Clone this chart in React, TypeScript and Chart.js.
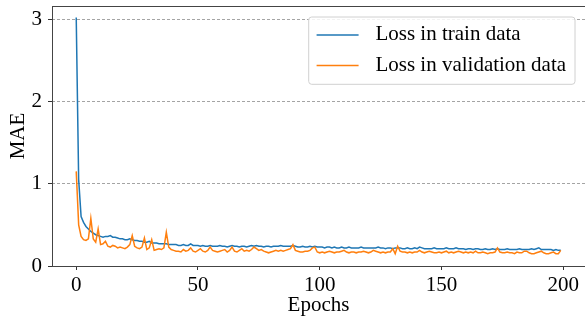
import React, { useEffect, useRef } from "react";
import { Chart, registerables } from "chart.js";

Chart.register(...registerables);

const trainLoss = [
  3.02, 1.05, 0.6, 0.53, 0.48, 0.45, 0.42, 0.4, 0.38, 0.37,
  0.36, 0.35, 0.36, 0.36, 0.37, 0.35, 0.35, 0.34, 0.33, 0.33,
  0.32, 0.32, 0.33, 0.32, 0.31, 0.31, 0.3, 0.3, 0.29, 0.29,
  0.3, 0.28, 0.28, 0.28, 0.27, 0.27, 0.27, 0.27, 0.26, 0.26,
  0.26, 0.26, 0.25, 0.25, 0.26, 0.25, 0.25, 0.27, 0.25, 0.25,
  0.25, 0.24, 0.25, 0.24, 0.24, 0.25, 0.24, 0.24, 0.24, 0.25,
  0.24, 0.24, 0.23, 0.24, 0.25, 0.24, 0.24, 0.23, 0.24, 0.24,
  0.23, 0.24, 0.25, 0.24, 0.25, 0.24, 0.24, 0.23, 0.24, 0.24,
  0.23, 0.24, 0.24, 0.24, 0.25, 0.24, 0.24, 0.24, 0.24, 0.25,
  0.24, 0.23, 0.23, 0.24, 0.23, 0.23, 0.24, 0.23, 0.24, 0.23,
  0.23, 0.23, 0.22, 0.23, 0.23, 0.22, 0.23, 0.22, 0.22, 0.23,
  0.22, 0.22, 0.23, 0.22, 0.22, 0.22, 0.22, 0.23, 0.22, 0.22,
  0.22, 0.22, 0.22, 0.22, 0.23, 0.22, 0.22, 0.21, 0.22, 0.22,
  0.21, 0.22, 0.22, 0.22, 0.21, 0.21, 0.22, 0.21, 0.21, 0.22,
  0.21, 0.23, 0.22, 0.21, 0.21, 0.21, 0.21, 0.22, 0.21, 0.21,
  0.21, 0.21, 0.22, 0.21, 0.21, 0.21, 0.22, 0.21, 0.21, 0.21,
  0.2, 0.21, 0.21, 0.2, 0.21, 0.21, 0.2, 0.2, 0.21, 0.2,
  0.2, 0.21, 0.2, 0.21, 0.2, 0.2, 0.2, 0.21, 0.2, 0.2,
  0.2, 0.2, 0.21, 0.2, 0.2, 0.2, 0.2, 0.21, 0.2, 0.21,
  0.22, 0.2, 0.2, 0.2, 0.2, 0.2, 0.19, 0.2, 0.19, 0.19,
];

const valLoss = [
  1.15, 0.5, 0.36, 0.32, 0.31, 0.33, 0.58, 0.33, 0.29, 0.45,
  0.26, 0.27, 0.3, 0.24, 0.23, 0.25, 0.24, 0.22, 0.23, 0.22,
  0.21, 0.23, 0.26, 0.37, 0.24, 0.22, 0.21, 0.23, 0.34, 0.2,
  0.22, 0.32, 0.19, 0.2, 0.21, 0.2, 0.22, 0.41, 0.23, 0.2,
  0.19, 0.18, 0.18, 0.17, 0.2, 0.18, 0.19, 0.22, 0.18, 0.17,
  0.19, 0.21, 0.18, 0.17, 0.19, 0.23, 0.19, 0.18, 0.17, 0.18,
  0.19, 0.2, 0.17, 0.19, 0.23, 0.18, 0.17, 0.19, 0.21, 0.18,
  0.19, 0.18, 0.2, 0.23, 0.21, 0.19, 0.2, 0.18, 0.17, 0.16,
  0.17, 0.18, 0.19, 0.18, 0.19, 0.18, 0.19, 0.2, 0.21, 0.26,
  0.19, 0.18, 0.17, 0.17, 0.18, 0.18, 0.19, 0.22, 0.23, 0.17,
  0.16, 0.17, 0.16, 0.17, 0.18, 0.17, 0.16, 0.17, 0.17, 0.18,
  0.19, 0.17, 0.16, 0.17, 0.17, 0.16, 0.17, 0.17, 0.18, 0.17,
  0.16, 0.17, 0.19, 0.18, 0.17, 0.16, 0.17, 0.16, 0.17, 0.17,
  0.21, 0.15, 0.24, 0.18, 0.17, 0.17, 0.16, 0.17, 0.16, 0.17,
  0.17, 0.19, 0.17, 0.16, 0.17, 0.18, 0.17, 0.16, 0.16, 0.17,
  0.16, 0.17, 0.18, 0.16, 0.17, 0.16, 0.17, 0.18, 0.17, 0.16,
  0.17, 0.16, 0.17, 0.16, 0.18, 0.16, 0.16, 0.17, 0.16, 0.15,
  0.16, 0.16, 0.17, 0.22, 0.17, 0.16, 0.16, 0.17, 0.16, 0.16,
  0.15, 0.17, 0.16, 0.16, 0.18, 0.18, 0.16, 0.15, 0.15, 0.16,
  0.17, 0.18, 0.16, 0.15, 0.15, 0.16, 0.17, 0.15, 0.15, 0.19,
];

const xTicks = [0, 50, 100, 150, 200];
const yTicks = [0, 1, 2, 3];
const seriesLabels = ["Loss in train data", "Loss in validation data"];
const seriesColors = ["#1f77b4", "#ff7f0e"];
const xTitle = "Epochs";
const yTitle = "MAE";

const FONT = "'Liberation Serif', 'Times New Roman', serif";
const FONT_SIZE = 21;

export default function App() {
  const ref = useRef<HTMLCanvasElement | null>(null);

  useEffect(() => {
    const canvas = ref.current;
    if (!canvas) return;

    const framePlugin = {
      id: "frameAndLegend",
      afterDatasetsDraw(chart: any) {
        const { ctx, chartArea } = chart;
        ctx.save();
        ctx.strokeStyle = "#444";
        ctx.lineWidth = 1;
        ctx.setLineDash([]);
        ctx.strokeRect(
          Math.round(chartArea.left) + 0.5,
          Math.round(chartArea.top) + 0.5,
          Math.round(chartArea.right - chartArea.left),
          Math.round(chartArea.bottom - chartArea.top)
        );
        ctx.restore();
      },
      afterDraw(chart: any) {
        const { ctx, chartArea } = chart;
        const fs = FONT_SIZE;
        ctx.save();
        ctx.font = `${fs}px ${FONT}`;
        const textW = Math.max(...seriesLabels.map((l) => ctx.measureText(l).width));
        const pad = 0.4 * fs;
        const handle = 2 * fs;
        const gap = 0.8 * fs;
        const rowH = 20;
        const spacing = 0.5 * fs;
        const w = pad + handle + gap + textW + pad;
        const h = pad * 2 + rowH * 2 + spacing;
        const right = chartArea.right - 0.5 * fs;
        const top = chartArea.top + 0.5 * fs;
        const left = right - w;
        ctx.beginPath();
        if ((ctx as any).roundRect) {
          (ctx as any).roundRect(left + 0.5, top + 0.5, w, h, 3);
        } else {
          ctx.rect(left + 0.5, top + 0.5, w, h);
        }
        ctx.fillStyle = "rgba(255,255,255,0.85)";
        ctx.fill();
        ctx.strokeStyle = "#d0d0d0";
        ctx.lineWidth = 1;
        ctx.stroke();
        seriesLabels.forEach((label, i) => {
          const cy = top + pad + rowH / 2 + i * (rowH + spacing);
          ctx.beginPath();
          ctx.strokeStyle = seriesColors[i];
          ctx.lineWidth = 1.5;
          ctx.moveTo(left + pad, cy);
          ctx.lineTo(left + pad + handle, cy);
          ctx.stroke();
          ctx.fillStyle = "#000";
          ctx.textBaseline = "middle";
          ctx.textAlign = "left";
          ctx.fillText(label, left + pad + handle + gap, cy);
        });
        ctx.restore();
      },
    };

    const tickFont = { family: FONT, size: FONT_SIZE };
    const titleFont = { family: FONT, size: FONT_SIZE };

    const chart = new Chart(canvas, {
      type: "line",
      data: {
        datasets: [
          {
            label: seriesLabels[0],
            data: trainLoss.map((v, i) => ({ x: i, y: v })),
            borderColor: seriesColors[0],
            borderWidth: 1.5,
            pointRadius: 0,
            tension: 0,
            fill: false,
            order: 2,
          },
          {
            label: seriesLabels[1],
            data: valLoss.map((v, i) => ({ x: i, y: v })),
            borderColor: seriesColors[1],
            borderWidth: 1.5,
            pointRadius: 0,
            tension: 0,
            fill: false,
            order: 1,
          },
        ],
      },
      options: {
        responsive: false,
        animation: false,
        events: [],
        layout: { padding: { top: 6, right: 0, left: 0, bottom: 0 } },
        plugins: {
          legend: { display: false },
          tooltip: { enabled: false },
        },
        scales: {
          x: {
            type: "linear",
            min: -9.95,
            max: 208.95,
            afterBuildTicks: (s: any) => {
              s.ticks = xTicks.map((v) => ({ value: v }));
            },
            afterFit: (s: any) => {
              s.height = 60;
              s.paddingLeft = 0;
              s.paddingRight = 0;
              s.paddingTop = 0;
              s.paddingBottom = 0;
            },
            grid: {
              drawOnChartArea: false,
              drawTicks: true,
              tickLength: 4,
              tickColor: "#333",
              tickWidth: 1,
            },
            border: { display: false },
            ticks: {
              font: tickFont,
              color: "#000",
              padding: 3,
              maxRotation: 0,
              autoSkip: false,
              callback: (v: any) => String(v),
            },
            title: {
              display: true,
              text: xTitle,
              font: titleFont,
              color: "#000",
              padding: { top: 0, bottom: 8 },
            },
          },
          y: {
            type: "linear",
            min: 0,
            max: 3.16,
            afterBuildTicks: (s: any) => {
              s.ticks = yTicks.map((v) => ({ value: v }));
            },
            afterFit: (s: any) => {
              s.width = 52;
              s.paddingLeft = 0;
              s.paddingRight = 0;
              s.paddingTop = 0;
              s.paddingBottom = 0;
            },
            grid: {
              color: "rgba(0,0,0,0.45)",
              lineWidth: 0.8,
              drawTicks: true,
              tickLength: 4,
              tickColor: "#333",
              tickWidth: 1,
              tickBorderDash: [],
            },
            border: { display: false, dash: [3, 2] },
            ticks: {
              font: tickFont,
              color: "#000",
              padding: 6,
              autoSkip: false,
              callback: (v: any) => String(v),
            },
            title: {
              display: true,
              text: yTitle,
              font: titleFont,
              color: "#000",
              padding: { top: 6, bottom: 0 },
            },
          },
        },
      },
      plugins: [framePlugin],
    } as any);

    return () => {
      chart.destroy();
    };
  }, []);

  return (
    <div
      style={{
        position: "fixed",
        left: 0,
        top: 0,
        width: 585,
        height: 326,
        background: "#fff",
      }}
    >
      <canvas ref={ref} width={585} height={326} style={{ display: "block" }} />
    </div>
  );
}
